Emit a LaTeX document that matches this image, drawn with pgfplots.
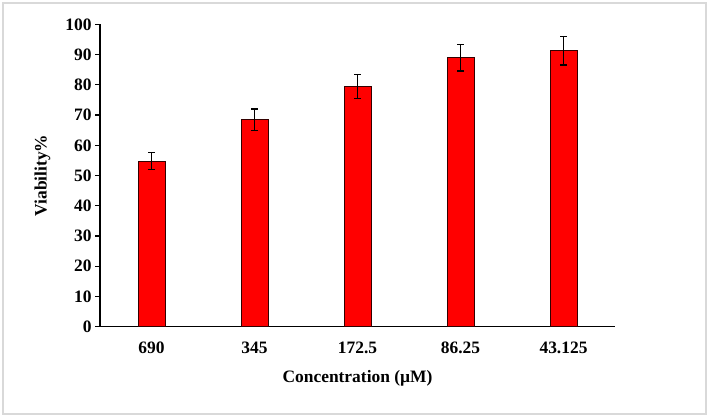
\documentclass[border=0pt]{standalone}
\usepackage{pgfplots}
\pgfplotsset{compat=1.18}
\usepackage{fontspec}
\setmainfont{Liberation Serif}
\begin{document}
\begin{tikzpicture}[x=1bp,y=1bp]
\path[fill=white] (0,0) rectangle (709,418);
\draw[black!15, line width=1.5bp] (3,4) rectangle (706,415);
\begin{axis}[
  at={(100bp,91.5bp)}, anchor=south west,
  scale only axis, width=515bp, height=302bp,
  xmin=0, xmax=5, ymin=0, ymax=100,
  axis x line*=bottom, axis y line*=left,
  axis line style={line width=1.5bp, black},
  xtick={0.5,1.5,2.5,3.5,4.5},
  xticklabels={690,345,172.5,86.25,43.125},
  major x tick style={draw=none},
  extra x ticks={0,1,2,3,4,5},
  extra x tick labels={},
  extra x tick style={tick style={line width=1.2bp, black}, major tick length=5bp, tick align=outside},
  ytick={0,10,...,100},
  tick align=outside,
  major tick length=5bp,
  y tick style={line width=1.2bp, black},
  /pgf/number format/assume math mode=true,
  tick label style={font=\fontsize{17.5}{17.5}\selectfont\bfseries},
  xticklabel style={yshift=-7bp},
  xlabel={Concentration (µM)},
  ylabel={Viability\%},
  label style={font=\fontsize{17.5}{17.5}\selectfont\bfseries},
  xlabel style={yshift=0bp},
  ylabel style={yshift=8bp},
  ybar, bar width=27bp,
  clip=false,
]
\addplot[fill=red, draw=black!80!red, line width=0.9bp,
  error bars/.cd, y dir=both, y explicit,
  error bar style={line width=1bp, black},
  error mark options={rotate=90, mark size=3.5bp, line width=1.2bp, black}]
  coordinates {
  (0.5,54.7) +- (0,2.8)
  (1.5,68.5) +- (0,3.5)
  (2.5,79.4) +- (0,4.0)
  (3.5,89.0) +- (0,4.4)
  (4.5,91.3) +- (0,4.7)
  };
\end{axis}
\end{tikzpicture}
\end{document}
